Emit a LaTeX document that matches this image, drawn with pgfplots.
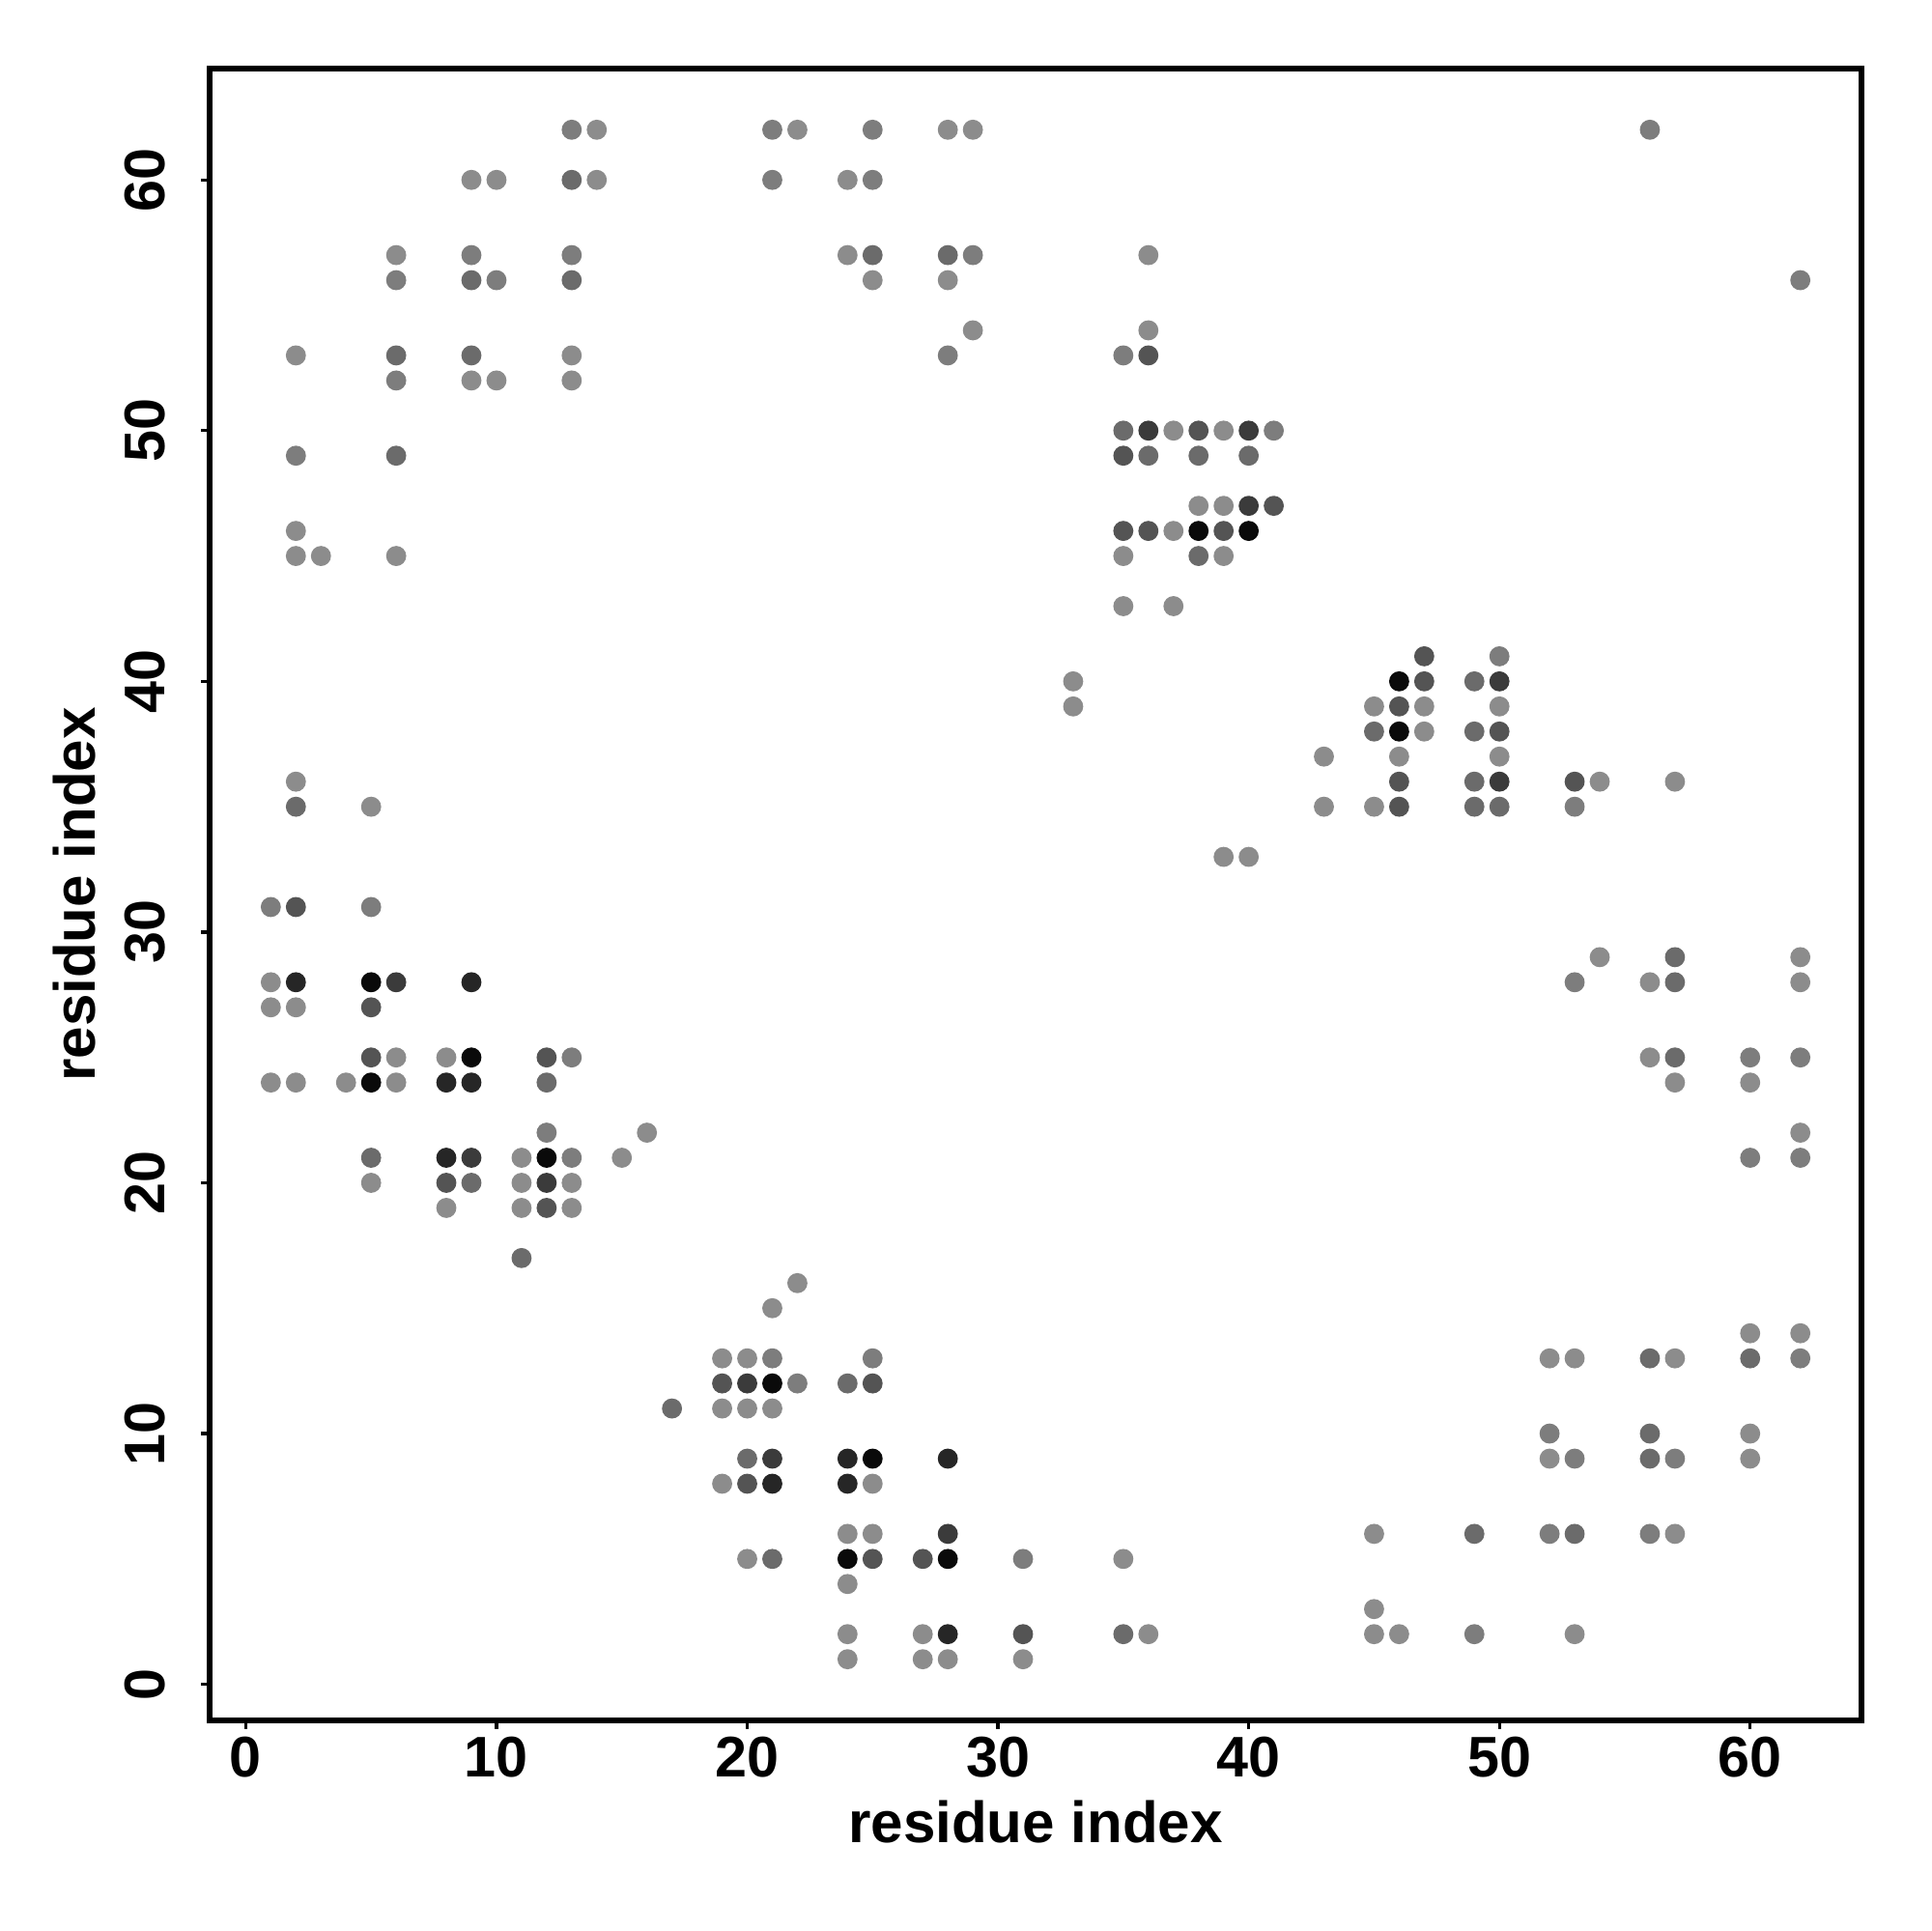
\documentclass[border=0pt]{standalone}
\usepackage{fontspec}
\setmainfont{Liberation Sans}
\usepackage{pgfplots}
\pgfplotsset{compat=1.18}
\definecolor{g1}{gray}{0.55}
\definecolor{g2}{gray}{0.49}
\definecolor{g3}{gray}{0.42}
\definecolor{g4}{gray}{0.33}
\definecolor{g5}{gray}{0.23}
\definecolor{g6}{gray}{0.15}
\definecolor{g7}{gray}{0.04}
\begin{document}
\begin{tikzpicture}
\begin{axis}[
  scale only axis,
  width=431bp, height=431bp,
  xmin=-1.44, xmax=64.44, ymin=-1.44, ymax=64.44,
  xtick={0,10,...,60}, ytick={0,10,...,60},
  axis line style={line width=1.7bp, black},
  every tick/.style={line width=0.85bp, black},
  tick align=outside, major tick length=2.2bp,
  xtick pos=bottom, ytick pos=left,
  /pgf/number format/assume math mode=true,
  tick label style={font=\fontsize{15}{18}\selectfont\bfseries},
  xticklabel style={anchor=base, yshift=-12.6bp},
  yticklabel style={xshift=-9.6bp, rotate=90, anchor=base},
  label style={font=\fontsize{15.2}{18}\selectfont\bfseries},
  xlabel={residue index}, ylabel={residue index},
  xlabel style={at={([yshift=-31.8bp]axis description cs:0.5,0)}, anchor=base},
  ylabel style={at={([xshift=-29.9bp]axis description cs:0,0.5)}, anchor=base},
  clip=false,
]
\addplot[only marks, mark=*, mark size=2.42bp, color=g1] coordinates {
(14,62) (9,60) (10,60) (14,60) (6,57) (2,53) (13,53) (9,52) (10,52) (13,52) (2,46) (2,45) (3,45) (6,45)
(22,62) (28,62) (29,62) (24,60) (24,57) (36,57) (25,56) (28,56) (29,54) (36,54) (37,50) (39,50) (38,47) (39,47) (37,46) (35,45) (39,45) (35,43) (37,43)
(33,40) (33,39) (39,33) (40,33) (43,37) (43,35) (45,39) (47,39) (50,39) (47,38) (46,37) (50,37) (54,36) (57,36) (45,35)
(54,29) (62,29) (56,28) (62,28) (56,25) (57,24) (60,24) (62,22)
(2,36) (5,35) (1,28) (1,27) (2,27) (6,25) (8,25) (1,24) (2,24) (4,24) (6,24) (16,22) (11,21) (15,21) (5,20) (11,20) (13,20) (8,19) (11,19) (13,19)
(22,16) (21,15) (19,13) (20,13) (19,11) (20,11) (21,11) (19,8) (25,8) (24,6) (25,6) (20,5) (35,5) (24,4) (24,2) (27,2) (36,2) (24,1) (27,1) (28,1) (31,1)
(60,14) (62,14) (52,13) (53,13) (57,13) (60,10) (52,9) (60,9) (45,6) (57,6) (45,3) (45,2) (46,2) (53,2)
};
\addplot[only marks, mark=*, mark size=2.42bp, color=g2] coordinates {
(13,62) (21,62) (25,62) (56,62) (21,60) (25,60) (9,57) (13,57) (29,57) (6,56) (10,56) (62,56) (28,53) (35,53) (6,52) (2,49) (41,50) (50,41) (1,31) (5,31) (60,25) (62,25) (13,25) (12,22) (13,21) (60,21) (62,21) (53,35) (53,28) (21,13) (25,13) (22,12) (31,5) (62,13) (52,10) (53,9) (57,9) (52,6) (56,6) (49,2)
};
\addplot[only marks, mark=*, mark size=2.42bp, color=g3] coordinates {
(13,60) (25,57) (28,57) (9,56) (13,56) (6,53) (9,53) (35,50) (6,49) (36,49) (38,49) (40,49) (38,45) (49,40) (45,38) (49,38) (49,36) (49,35) (50,35) (57,29) (57,28) (57,25) (2,35) (5,21) (9,20) (12,24) (17,11) (24,12) (20,9) (21,5) (35,2) (56,13) (60,13) (56,10) (56,9) (49,6) (53,6) (11,17)
};
\addplot[only marks, mark=*, mark size=2.42bp, color=g4] coordinates {
(36,53) (38,50) (35,49) (35,46) (36,46) (39,46) (47,41) (47,40) (46,39) (50,38) (46,36) (53,36) (46,35) (41,47) (2,31) (5,27) (5,25) (12,25) (8,20) (12,19) (19,12) (25,12) (20,8) (25,5) (27,5) (31,2)
};
\addplot[only marks, mark=*, mark size=2.42bp, color=g5] coordinates {
(36,50) (40,50) (40,47) (50,40) (50,36) (6,28) (9,21) (12,20) (20,12) (21,9) (28,6)
};
\addplot[only marks, mark=*, mark size=2.42bp, color=g6] coordinates {
(2,28) (9,28) (8,24) (9,24) (8,21) (21,8) (24,9) (28,9) (24,8) (28,2)
};
\addplot[only marks, mark=*, mark size=2.42bp, color=g7] coordinates {
(38,46) (40,46) (46,40) (46,38) (5,28) (9,25) (5,24) (12,21) (21,12) (25,9) (24,5) (28,5)
};
\end{axis}
\pgfresetboundingbox
\path ([shift={(-54.7bp,-54.7bp)}]current axis.south west) rectangle ([shift={(18.4bp,17.9bp)}]current axis.north east);
\end{tikzpicture}
\end{document}
